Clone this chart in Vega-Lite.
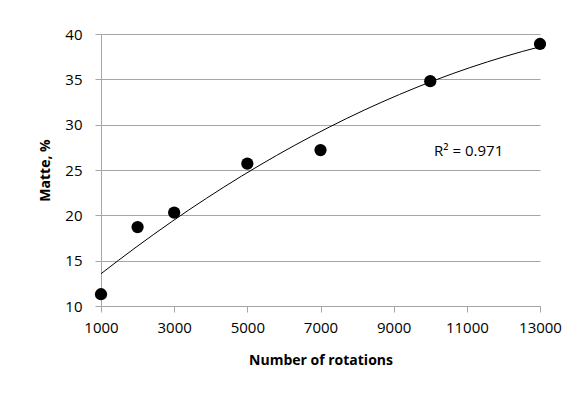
{
  "$schema": "https://vega.github.io/schema/vega-lite/v6.json",
  "autosize": {"type": "none"},
  "padding": {"left": 101, "top": 34, "right": 45, "bottom": 90},
  "width": 439,
  "height": 272,
  "background": "white",
  "config": {
    "view": {"stroke": null},
    "font": "Open Sans",
    "axis": {
      "labelFont": "Open Sans",
      "titleFont": "Open Sans",
      "labelFontSize": 15,
      "titleFontSize": 14,
      "titleFontWeight": "bold",
      "labelColor": "#000000",
      "titleColor": "#000000",
      "gridColor": "#a6a6a6",
      "gridWidth": 1,
      "domainColor": "#a6a6a6",
      "tickColor": "#a6a6a6",
      "tickSize": 6,
      "labelFlush": false,
      "labelOverlap": false
    }
  },
  "datasets": {
    "pts": [
      {"rotations": 1000, "matte": 11.3},
      {"rotations": 2000, "matte": 18.7},
      {"rotations": 3000, "matte": 20.3},
      {"rotations": 5000, "matte": 25.7},
      {"rotations": 7000, "matte": 27.2},
      {"rotations": 10000, "matte": 34.8},
      {"rotations": 13000, "matte": 38.9}
    ],
    "label": [
      {"rotations": 11050, "matte": 27.1, "text": "R² = 0.971"}
    ]
  },
  "layer": [
    {
      "data": {"name": "pts"},
      "transform": [
        {"regression": "matte", "on": "rotations", "method": "poly", "order": 2, "extent": [1000, 13000]}
      ],
      "mark": {"type": "line", "color": "#000000", "strokeWidth": 1},
      "encoding": {
        "x": {
          "field": "rotations", "type": "quantitative",
          "scale": {"domain": [1000, 13000], "nice": false, "zero": false},
          "axis": {
            "values": [1000, 3000, 5000, 7000, 9000, 11000, 13000],
            "grid": false,
            "format": "d",
            "title": "Number of rotations",
            "labelPadding": 8,
            "titlePadding": 18
          }
        },
        "y": {
          "field": "matte", "type": "quantitative",
          "scale": {"domain": [10, 40], "nice": false, "zero": false},
          "axis": {
            "values": [10, 15, 20, 25, 30, 35, 40],
            "grid": true,
            "title": "Matte, %",
            "labelPadding": 13,
            "titlePadding": 12
          }
        }
      }
    },
    {
      "data": {"name": "pts"},
      "mark": {"type": "point", "filled": true, "color": "#000000", "size": 150, "opacity": 1},
      "encoding": {
        "x": {"field": "rotations", "type": "quantitative"},
        "y": {"field": "matte", "type": "quantitative"}
      }
    },
    {
      "data": {"name": "label"},
      "mark": {"type": "text", "font": "Open Sans", "fontSize": 15, "color": "#000000", "align": "center", "baseline": "middle"},
      "encoding": {
        "x": {"field": "rotations", "type": "quantitative"},
        "y": {"field": "matte", "type": "quantitative"},
        "text": {"field": "text"}
      }
    }
  ]
}
